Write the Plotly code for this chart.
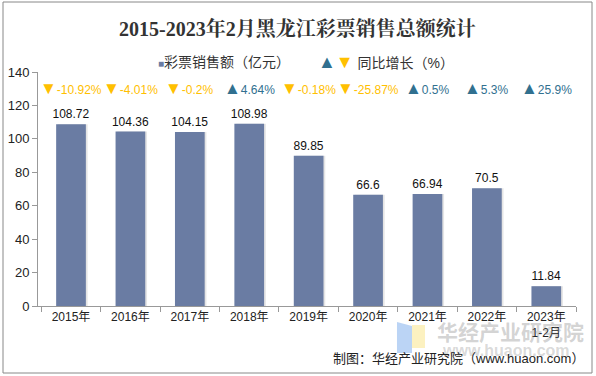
import plotly.graph_objects as go

categories = ["2015年", "2016年", "2017年", "2018年", "2019年", "2020年", "2021年", "2022年", "2023年<br>1-2月"]
sales = [108.72, 104.36, 104.15, 108.98, 89.85, 66.6, 66.94, 70.5, 11.84]
growth = [-10.92, -4.01, -0.2, 4.64, -0.18, -25.87, 0.5, 5.3, 25.9]
growth_labels = ["-10.92%", "-4.01%", "-0.2%", "4.64%", "-0.18%", "-25.87%", "0.5%", "5.3%", "25.9%"]
y_ticks = [0, 20, 40, 60, 80, 100, 120, 140]

W, H = 596, 376
ML, MR, MT, MB = 38, 20, 72, 70
PW, PH = W - ML - MR, H - MT - MB

def px(x):
    return (x - ML) / PW

def py(y):
    return (H - MB - y) / PH

BAR = "#6A7CA3"
UP = "#31708F"
DOWN = "#FFC000"
FONT = "Arial, Liberation Sans, Noto Sans CJK SC"

fig = go.Figure()
# soft shadow to the right of each bar
fig.add_trace(go.Bar(
    x=categories, y=sales, marker=dict(color="rgba(0,0,0,0.10)", line=dict(width=0)),
    width=0.5, offset=-0.22, hoverinfo="skip", showlegend=False,
))
fig.add_trace(go.Bar(
    x=categories, y=sales, marker=dict(color=BAR, line=dict(width=0)),
    width=0.5, offset=-0.25, text=[str(v) for v in sales], textposition="outside",
    constraintext="none",
    textfont=dict(size=12, color="#111111", family=FONT), cliponaxis=False,
    showlegend=False,
))

annotations = []
for c, g, lab in zip(categories, growth, growth_labels):
    sym = "▲" if g > 0 else "▼"
    col = UP if g > 0 else DOWN
    annotations.append(dict(x=c, xref="x", y=py(88), yref="paper",
                            text="<span style='font-size:17px'>%s</span>%s" % (sym, lab),
                            showarrow=False, font=dict(size=12, color=col, family=FONT),
                            xanchor="center", yanchor="middle"))

# title
annotations.append(dict(x=px(297), y=py(28), xref="paper", yref="paper",
                        text="<b>2015-2023年2月黑龙江彩票销售总额统计</b>", showarrow=False,
                        font=dict(size=20, color="#333333", family="Liberation Serif, Noto Serif CJK SC, Noto Sans CJK SC"),
                        xanchor="center", yanchor="middle"))
# legend
annotations.append(dict(x=px(156), y=py(62), xref="paper", yref="paper",
                        text="<span style='color:%s;font-size:10px'>■</span>彩票销售额（亿元）" % BAR, showarrow=False,
                        font=dict(size=14, color="#333333", family=FONT), xanchor="left", yanchor="middle"))
annotations.append(dict(x=px(316), y=py(62), xref="paper", yref="paper",
                        text="<span style='color:%s;font-size:18px'>▲</span><span style='color:%s;font-size:18px'>▼</span> 同比增长（%%）" % (UP, DOWN),
                        showarrow=False, font=dict(size=14, color="#333333", family=FONT),
                        xanchor="left", yanchor="middle"))
# watermark
annotations.append(dict(x=px(510), y=py(331), xref="paper", yref="paper", text="<b>华经产业研究院</b>",
                        showarrow=False, font=dict(size=21, color="rgba(130,130,130,0.35)", family="Noto Sans CJK SC"),
                        xanchor="center", yanchor="middle"))
annotations.append(dict(x=px(506), y=py(350), xref="paper", yref="paper", text="<b>www.huaon.com</b>",
                        showarrow=False, font=dict(size=16, color="rgba(130,130,130,0.3)", family=FONT),
                        xanchor="center", yanchor="middle"))
# source
annotations.append(dict(x=px(586), y=py(358), xref="paper", yref="paper",
                        text="制图：华经产业研究院（www.huaon.com）", showarrow=False,
                        font=dict(size=13, color="#222222", family=FONT), xanchor="right", yanchor="middle"))

shapes = [
    dict(type="rect", xref="paper", yref="paper", x0=px(3), x1=px(592), y0=py(373), y1=py(2),
         line=dict(color="#888888", width=1), fillcolor="rgba(0,0,0,0)", layer="below"),
    dict(type="path", xref="paper", yref="paper",
         path="M %f,%f L %f,%f L %f,%f L %f,%f Z" % (px(397), py(322), px(412), py(326), px(412), py(353), px(397), py(353)),
         line=dict(width=0), fillcolor="rgba(120,170,235,0.5)", layer="below"),
    dict(type="rect", xref="paper", yref="paper", x0=px(412), x1=px(425), y0=py(348), y1=py(325),
         line=dict(width=0), fillcolor="rgba(250,228,130,0.5)", layer="below"),
]

fig.update_layout(
    width=W, height=H, margin=dict(l=ML, r=MR, t=MT, b=MB, autoexpand=False),
    paper_bgcolor="white", plot_bgcolor="white",
    barmode="overlay", annotations=annotations, shapes=shapes,
    font=dict(family=FONT, size=12, color="#222222"),
)
fig.update_xaxes(type="category", showline=True, linecolor="#999999", linewidth=1,
                 ticks="outside", tickson="boundaries", ticklen=5, tickcolor="#999999",
                 tickfont=dict(size=12, color="#222222", family=FONT))
fig.update_yaxes(range=[0, 140], tickvals=y_ticks, showgrid=False, zeroline=False,
                 showline=True, linecolor="#999999", linewidth=1,
                 ticks="outside", ticklen=5, tickcolor="#999999",
                 tickfont=dict(size=13, color="#222222", family=FONT))

fig.write_html("out.html", config={"displayModeBar": False},
               post_script="document.body.style.margin='0';")
